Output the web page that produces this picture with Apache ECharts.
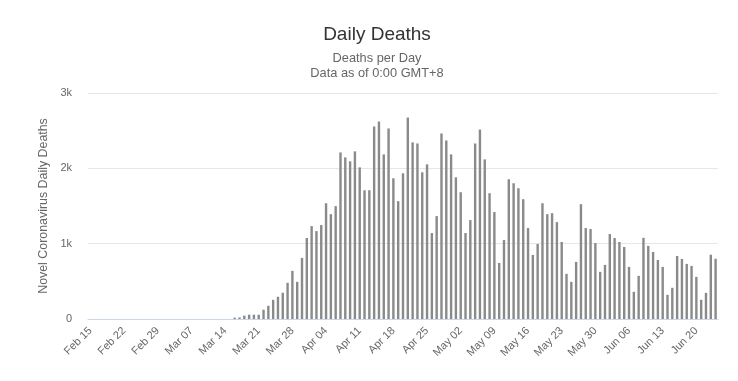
<!DOCTYPE html>
<html>
<head>
<meta charset="utf-8">
<script src="https://cdn.jsdelivr.net/npm/echarts@6/dist/echarts.min.js"></script>
<style>
html,body{margin:0;padding:0;background:#fff;}
#chart{width:738px;height:381px;}
</style>
</head>
<body>
<div id="chart"></div>
<script>
const chartTitle = "Daily Deaths";
const subtitleLines = ["Deaths per Day", "Data as of 0:00 GMT+8"];
const yAxisName = "Novel Coronavirus Daily Deaths";

const dates = [
  "Feb 15","Feb 16","Feb 17","Feb 18","Feb 19","Feb 20","Feb 21","Feb 22","Feb 23","Feb 24","Feb 25","Feb 26","Feb 27","Feb 28","Feb 29",
  "Mar 01","Mar 02","Mar 03","Mar 04","Mar 05","Mar 06","Mar 07","Mar 08","Mar 09","Mar 10","Mar 11","Mar 12","Mar 13","Mar 14","Mar 15",
  "Mar 16","Mar 17","Mar 18","Mar 19","Mar 20","Mar 21","Mar 22","Mar 23","Mar 24","Mar 25","Mar 26","Mar 27","Mar 28","Mar 29","Mar 30","Mar 31",
  "Apr 01","Apr 02","Apr 03","Apr 04","Apr 05","Apr 06","Apr 07","Apr 08","Apr 09","Apr 10","Apr 11","Apr 12","Apr 13","Apr 14","Apr 15",
  "Apr 16","Apr 17","Apr 18","Apr 19","Apr 20","Apr 21","Apr 22","Apr 23","Apr 24","Apr 25","Apr 26","Apr 27","Apr 28","Apr 29","Apr 30",
  "May 01","May 02","May 03","May 04","May 05","May 06","May 07","May 08","May 09","May 10","May 11","May 12","May 13","May 14","May 15",
  "May 16","May 17","May 18","May 19","May 20","May 21","May 22","May 23","May 24","May 25","May 26","May 27","May 28","May 29","May 30","May 31",
  "Jun 01","Jun 02","Jun 03","Jun 04","Jun 05","Jun 06","Jun 07","Jun 08","Jun 09","Jun 10","Jun 11","Jun 12",
  "Jun 13","Jun 14","Jun 15","Jun 16","Jun 17","Jun 18","Jun 19","Jun 20","Jun 21","Jun 22","Jun 23","Jun 24"
];

const dailyDeaths = [
  0,0,0,0,0,0,0,0,0,0,0,0,0,0,0,
  0,0,0,0,0,0,0,0,0,0,0,0,0,0,0,
  18,20,44,57,57,57,123,176,255,295,348,480,639,493,811,1075,
  1233,1167,1247,1537,1392,1498,2211,2145,2093,2225,2013,1709,1709,2555,2621,
  2185,2529,1868,1564,1934,2674,2344,2330,1947,2053,1141,1366,2463,2370,2185,
  1881,1683,1141,1313,2330,2515,2119,1670,1419,744,1048,1855,1802,1736,1590,
  1207,850,996,1537,1392,1405,1286,1022,599,493,758,1524,1207,1194,1009,626,
  718,1128,1075,1022,956,692,361,573,1078,971,890,784,
  692,321,414,837,797,731,705,559,255,347,853,800
];

const yTicks = [0, 1000, 2000, 3000];

const FONT = "'Liberation Sans', Arial, Helvetica, sans-serif";

const chart = echarts.init(document.getElementById('chart'), null, {renderer: 'canvas'});
chart.setOption({
  animation: false,
  backgroundColor: '#ffffff',
  graphic: [
    {type: 'text', x: 377, y: 35, silent: true,
     style: {text: chartTitle, fill: '#333333', font: "19px " + FONT, align: 'center', verticalAlign: 'middle'}},
    {type: 'text', x: 377, y: 58, silent: true,
     style: {text: subtitleLines[0], fill: '#666666', font: "12.8px " + FONT, align: 'center', verticalAlign: 'middle'}},
    {type: 'text', x: 377, y: 73, silent: true,
     style: {text: subtitleLines[1], fill: '#666666', font: "12.8px " + FONT, align: 'center', verticalAlign: 'middle'}}
  ],
  grid: {left: 88, right: 20, top: 93, bottom: 62, containLabel: false},
  xAxis: {
    type: 'category',
    data: dates,
    boundaryGap: true,
    axisLine: {show: true, lineStyle: {color: '#ccd6eb', width: 1}},
    axisTick: {show: false},
    axisLabel: {
      interval: 6,
      rotate: 45,
      margin: 10,
      fontFamily: FONT,
      fontSize: 11,
      color: '#666666'
    },
    splitLine: {show: false}
  },
  yAxis: {
    type: 'value',
    min: yTicks[0],
    max: yTicks[yTicks.length - 1],
    interval: 1000,
    name: yAxisName,
    nameLocation: 'middle',
    nameGap: 33,
    nameRotate: 90,
    nameTextStyle: {fontFamily: FONT, fontSize: 12.4, color: '#666666'},
    axisLine: {show: false},
    axisTick: {show: false},
    axisLabel: {
      margin: 16,
      fontFamily: FONT,
      fontSize: 11,
      color: '#666666',
      formatter: function (v) { return v === 0 ? '0' : (v / 1000) + 'k'; }
    },
    splitLine: {show: true, lineStyle: {color: '#e6e6e6', width: 1}}
  },
  series: [{
    type: 'bar',
    data: dailyDeaths,
    barWidth: 2.4,
    itemStyle: {color: '#8a8a8a'},
    emphasis: {disabled: true}
  }]
});
</script>
</body>
</html>
